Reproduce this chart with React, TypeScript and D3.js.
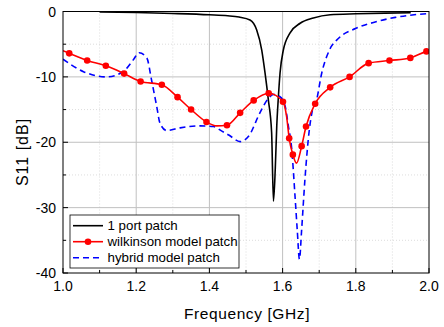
import * as d3 from 'd3';

// 1 port patch (black)
const portFreq = [1.1, 1.2, 1.3, 1.4, 1.45, 1.481, 1.511, 1.529, 1.543, 1.552, 1.561, 1.57, 1.575, 1.58, 1.584, 1.588, 1.593, 1.602, 1.62, 1.648, 1.684, 1.73, 1.8, 1.88, 1.95];
const portS11 = [-0.05, -0.15, -0.3, -0.5, -0.65, -0.85, -1.3, -2.8, -5.9, -9.4, -13.5, -18.5, -29, -24, -17.6, -13.5, -9.4, -5.9, -3.3, -1.8, -1.0, -0.5, -0.35, -0.25, -0.2];

// wilkinson model patch (red, with markers)
const wilkFreq = [1.0, 1.017, 1.066, 1.117, 1.167, 1.212, 1.27, 1.313, 1.35, 1.392, 1.42, 1.448, 1.484, 1.521, 1.562, 1.601, 1.611, 1.618, 1.628, 1.638, 1.652, 1.664, 1.689, 1.73, 1.783, 1.835, 1.892, 1.949, 1.993, 2.0];
const wilkS11 = [-6.0, -6.4, -7.5, -8.3, -9.5, -10.7, -11.2, -13.1, -15.0, -16.9, -17.5, -17.4, -15.5, -13.6, -12.5, -13.8, -16.1, -19.4, -21.9, -23.2, -20.6, -17.6, -14.1, -11.6, -10.0, -7.9, -7.5, -7.1, -6.1, -6.0];
const wilkMarkers = [1.017, 1.066, 1.117, 1.167, 1.212, 1.27, 1.313, 1.35, 1.392, 1.448, 1.484, 1.521, 1.562, 1.601, 1.618, 1.628, 1.652, 1.664, 1.689, 1.73, 1.783, 1.835, 1.892, 1.949, 1.993];

// hybrid model patch (blue dashed)
const hybFreq = [1.0, 1.056, 1.119, 1.147, 1.174, 1.192, 1.208, 1.229, 1.242, 1.256, 1.265, 1.283, 1.32, 1.374, 1.411, 1.434, 1.453, 1.484, 1.507, 1.538, 1.561, 1.575, 1.592, 1.607, 1.616, 1.624, 1.634, 1.64, 1.646, 1.652, 1.661, 1.673, 1.68, 1.693, 1.707, 1.728, 1.753, 1.799, 1.853, 1.908, 2.0];
const hybS11 = [-7.3, -9.2, -10.0, -9.7, -8.7, -7.4, -6.3, -7.1, -10.5, -14.5, -17.1, -18.2, -17.8, -17.5, -17.6, -18.3, -18.9, -19.9, -19.1, -15.5, -13.3, -12.7, -13.0, -14.5, -17.6, -20.5, -28.3, -33.4, -37.9, -33.4, -25.7, -18.1, -15.5, -13.5, -9.4, -5.9, -4.1, -2.6, -1.6, -0.9, -0.3];

const xTicks = [1.0, 1.2, 1.4, 1.6, 1.8, 2.0];
const xMinor = [1.1, 1.3, 1.5, 1.7, 1.9];
const yTicks = [0, -10, -20, -30, -40];
const yMinor = [-5, -15, -25, -35];

const legendItems = [
  { label: '1 port patch', color: '#000000', dash: '', marker: false },
  { label: 'wilkinson model patch', color: '#ff0000', dash: '', marker: true },
  { label: 'hybrid model patch', color: '#0000ff', dash: '6,4', marker: false },
];

export default function App() {
  const left = 63, right = 429, top = 11.5, bottom = 273;
  const x = d3.scaleLinear().domain([1.0, 2.0]).range([left, right]);
  const y = d3.scaleLinear().domain([-40, 0]).range([bottom, top]);

  const line = d3.line<[number, number]>()
    .x(d => x(d[0]))
    .y(d => y(d[1]))
    .curve(d3.curveMonotoneX);

  const portPts = portFreq.map((f, i) => [f, portS11[i]] as [number, number]);
  const wilkPts = wilkFreq.map((f, i) => [f, wilkS11[i]] as [number, number]);
  const hybPts = hybFreq.map((f, i) => [f, hybS11[i]] as [number, number]);
  const markerPts = wilkMarkers.map(f => wilkPts.find(p => p[0] === f)!);

  const font = 'Arial, "Liberation Sans", sans-serif';

  return (
    <svg width={444} height={327} style={{ position: 'absolute', left: 0, top: 0, background: '#fff' }} fontFamily={font}>
      <defs>
        <clipPath id="plot">
          <rect x={left} y={top} width={right - left} height={bottom - top} />
        </clipPath>
      </defs>

      {/* grid */}
      {xMinor.map(t => (
        <line key={'xm' + t} x1={x(t)} x2={x(t)} y1={top} y2={bottom} stroke="#d4d4d4" strokeWidth={0.8} strokeDasharray="1,2" />
      ))}
      {yMinor.map(t => (
        <line key={'ym' + t} x1={left} x2={right} y1={y(t)} y2={y(t)} stroke="#d4d4d4" strokeWidth={0.8} strokeDasharray="1,2" />
      ))}
      {xTicks.slice(1, -1).map(t => (
        <line key={'xg' + t} x1={x(t)} x2={x(t)} y1={top} y2={bottom} stroke="#c0c0c0" strokeWidth={1} />
      ))}
      {yTicks.slice(1, -1).map(t => (
        <line key={'yg' + t} x1={left} x2={right} y1={y(t)} y2={y(t)} stroke="#c0c0c0" strokeWidth={1} />
      ))}

      {/* curves */}
      <g clipPath="url(#plot)">
        <path d={line(portPts) ?? ''} fill="none" stroke="#000" strokeWidth={1.6} />
        <path d={line(hybPts) ?? ''} fill="none" stroke="#0000ff" strokeWidth={1.6} strokeDasharray="6,4" />
        <path d={line(wilkPts) ?? ''} fill="none" stroke="#ff0000" strokeWidth={1.6} />
        {markerPts.map(p => (
          <circle key={'m' + p[0]} cx={x(p[0])} cy={y(p[1])} r={3.3} fill="#ff0000" />
        ))}
      </g>

      {/* frame */}
      <rect x={left} y={top} width={right - left} height={bottom - top} fill="none" stroke="#000" strokeWidth={1} />

      {/* ticks */}
      {xTicks.map(t => (
        <line key={'xt' + t} x1={x(t)} x2={x(t)} y1={bottom} y2={bottom - 5} stroke="#000" />
      ))}
      {xMinor.map(t => (
        <line key={'xmt' + t} x1={x(t)} x2={x(t)} y1={bottom} y2={bottom - 3} stroke="#000" />
      ))}
      {yTicks.map(t => (
        <line key={'yt' + t} x1={left} x2={left + 5} y1={y(t)} y2={y(t)} stroke="#000" />
      ))}
      {yMinor.map(t => (
        <line key={'ymt' + t} x1={left} x2={left + 3} y1={y(t)} y2={y(t)} stroke="#000" />
      ))}

      {/* tick labels */}
      {xTicks.map(t => (
        <text key={'xl' + t} x={x(t)} y={bottom + 18} textAnchor="middle" fontSize={14} fill="#000">{t.toFixed(1)}</text>
      ))}
      {yTicks.map(t => (
        <text key={'yl' + t} x={left - 7} y={y(t) + 5} textAnchor="end" fontSize={14} fill="#000">{t}</text>
      ))}

      {/* axis titles */}
      <text x={(left + right) / 2 + 1} y={319} textAnchor="middle" fontSize={15.5} letterSpacing={0.6} fill="#000">Frequency [GHz]</text>
      <text transform={`translate(27.5,152) rotate(-90)`} textAnchor="middle" fontSize={16} letterSpacing={1} fill="#000">S11 [dB]</text>

      {/* legend */}
      <rect x={70} y={215} width={169} height={53} fill="#fff" stroke="#000" strokeWidth={0.8} />
      {legendItems.map((item, i) => {
        const ly = 225.7 + i * 16;
        return (
          <g key={item.label}>
            <line x1={73} x2={103} y1={ly} y2={ly} stroke={item.color} strokeWidth={1.6} strokeDasharray={item.dash || undefined} />
            {item.marker && <circle cx={88} cy={ly} r={3.3} fill={item.color} />}
            <text x={107.5} y={ly + 4.5} fontSize={13.3} fill="#000">{item.label}</text>
          </g>
        );
      })}
    </svg>
  );
}
